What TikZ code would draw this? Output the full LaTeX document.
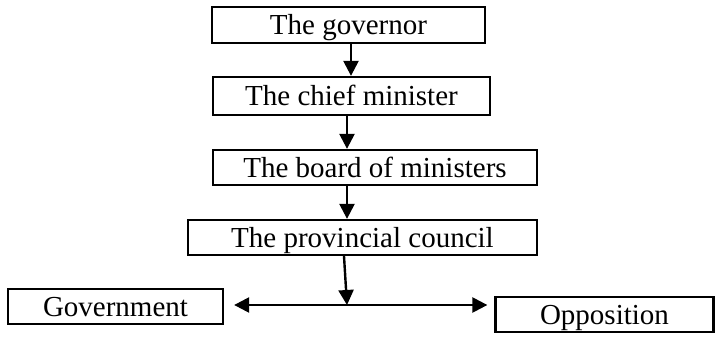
\documentclass[tikz,border=0pt]{standalone}
\usepackage{fontspec}
\setmainfont{Liberation Serif}
\usetikzlibrary{arrows.meta,calc}
\tikzset{
  box/.style={draw=black, line width=2.3pt, inner sep=0pt, anchor=center, text height=19pt, text depth=0pt, font=\fontsize{29}{30}\selectfont},
  arr/.style={line width=2.4pt, -{Triangle[length=15pt,width=15pt]}},
  darr/.style={line width=2.4pt, {Triangle[length=15pt,width=15pt]}-{Triangle[length=15pt,width=15pt]}}
}
\begin{document}
\begin{tikzpicture}[x=1pt,y=-1pt]
\useasboundingbox (0,0) rectangle (716,338);
\node[box, minimum width=273pt, minimum height=36pt] (b1) at (348.5,25) {The governor};
\node[box, minimum width=277pt, minimum height=38pt] (b2) at (351.5,96) {The chief minister};
\node[box, minimum width=324pt, minimum height=35pt] (b3) at (375,167.5) {The board of ministers};
\node[box, minimum width=349pt, minimum height=35pt] (b4) at (362.5,237.5) {The provincial council};
\node[box, minimum width=215pt, minimum height=35pt] (gov) at (115.5,306.5) {Government};
\node[box, minimum width=218pt, minimum height=35pt] (opp) at (604.5,314.5) {Opposition};
\coordinate (a1) at ([xshift=2.5pt]b1.south);
\coordinate (a2) at ([xshift=-4.5pt]b2.south);
\coordinate (a3) at ([xshift=-28pt]b3.south);
\coordinate (a4) at ([xshift=-18.5pt]b4.south);
\coordinate (j) at (347,305);
\coordinate (gl) at ($(gov.east |- j)+(10pt,0)$);
\coordinate (or) at ($(opp.west |- j)+(-7pt,0)$);
\draw[arr] (a1) -- (a1 |- b2.north);
\draw[arr] (a2) -- (a2 |- b3.north);
\draw[arr] (a3) -- (a3 |- b4.north);
\draw[arr] (a4) -- (j);
\draw[darr] (gl) -- (or);
\end{tikzpicture}
\end{document}
